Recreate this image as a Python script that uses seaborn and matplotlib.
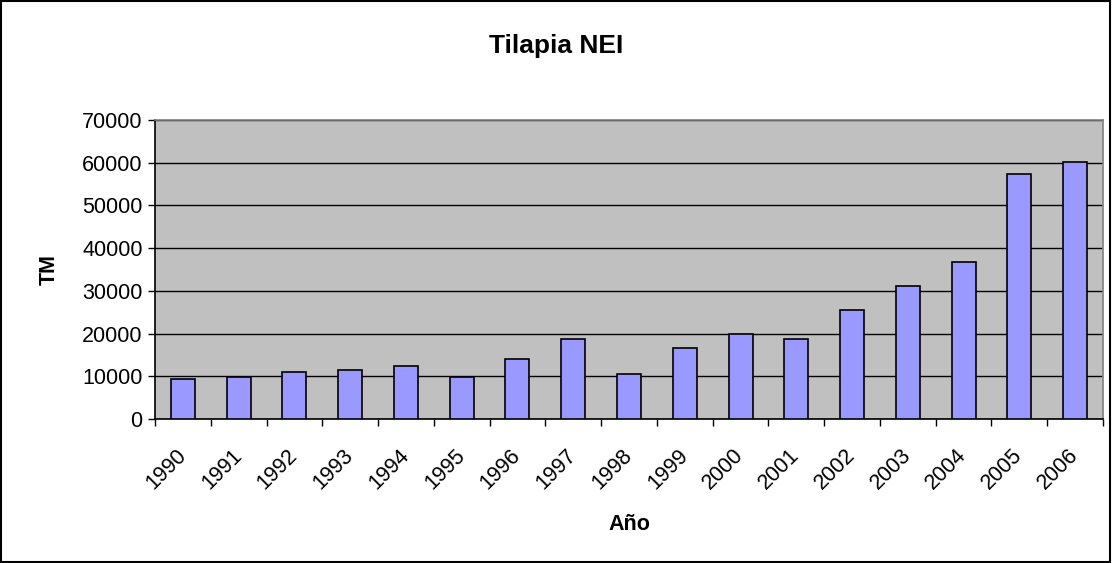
import matplotlib
matplotlib.use("Agg")
import matplotlib.pyplot as plt
import seaborn as sns
import pandas as pd
import numpy as np

years = ["1990", "1991", "1992", "1993", "1994", "1995", "1996", "1997", "1998",
         "1999", "2000", "2001", "2002", "2003", "2004", "2005", "2006"]
tm = [9400, 9800, 11100, 11500, 12400, 9800, 14100, 18800, 10600,
      16600, 20000, 18800, 25600, 31200, 36800, 57300, 60200]

df = pd.DataFrame({"Año": years, "TM": tm})

sns.set_style("white")
plt.rcParams['font.family'] = ['Liberation Sans', 'DejaVu Sans']
plt.rcParams['text.color'] = 'black'
plt.rcParams['axes.labelcolor'] = 'black'
plt.rcParams['xtick.color'] = 'black'
plt.rcParams['ytick.color'] = 'black'

fig = plt.figure(figsize=(11.12, 5.63), dpi=100)
ax = fig.add_axes([0.1394, 0.2558, 0.8525, 0.5311])
ax.set_facecolor("#C0C0C0")

sns.barplot(data=df, x="Año", y="TM", ax=ax, color="#9999FF", width=0.43,
            edgecolor="black", linewidth=1.2, saturation=1, zorder=3)

ax.set_ylim(0, 70000)
ax.set_xlim(-0.5, len(years) - 0.5)
ax.set_yticks(np.arange(0, 70001, 10000))
ax.yaxis.grid(True, color="black", linewidth=1, zorder=0)
ax.set_axisbelow(True)
ax.tick_params(axis="y", which="both", left=True, length=5, width=1, color="black",
               labelsize=15.5, pad=4, labelcolor="black")

# x ticks: labels at centers, tick marks between categories
ax.set_xticks(range(len(years)))
ax.set_xticklabels(years, rotation=45, ha="right", va="center",
                   rotation_mode="anchor", fontsize=15.5, color="black")
ax.tick_params(axis="x", which="major", length=0, pad=24)
ax.set_xticks(np.arange(-0.5, len(years), 1), minor=True)
ax.tick_params(axis="x", which="minor", bottom=True, length=5, width=1, color="black")

for s in ["top", "right"]:
    ax.spines[s].set_color("#808080")
    ax.spines[s].set_linewidth(1.2)
for s in ["left", "bottom"]:
    ax.spines[s].set_color("black")
    ax.spines[s].set_linewidth(1.2)

ax.set_xlabel("Año", fontsize=15.5, fontweight="bold", color="black")
ax.xaxis.set_label_coords(0.5, -0.318)
ax.set_ylabel("TM", fontsize=15.5, fontweight="bold", color="black")
ax.yaxis.set_label_coords(-0.101, 0.5)
fig.text(0.5, 1 - 46 / 563, "Tilapia NEI", ha="center", va="center",
         fontsize=19, fontweight="bold", color="black")

# figure border
fig.patches.append(plt.Rectangle((0.001, 0.002), 0.997, 0.996, transform=fig.transFigure,
                                 fill=False, edgecolor="black", linewidth=1.5))

fig.savefig("out.png", dpi=100)
